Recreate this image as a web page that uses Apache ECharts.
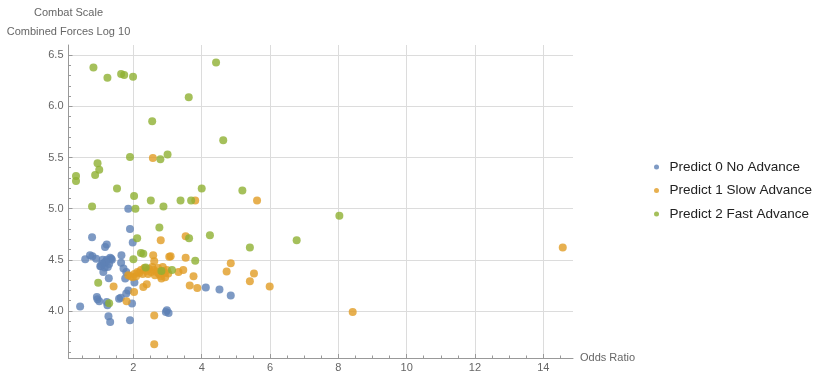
<!DOCTYPE html>
<html><head><meta charset="utf-8">
<script src="https://cdn.jsdelivr.net/npm/echarts@6/dist/echarts.min.js"></script>
<style>html,body{margin:0;padding:0;background:#fff}#c{width:824px;height:387px}</style>
</head><body><div id="c"></div>
<script>
const seriesNames = ['Predict 0 No Advance', 'Predict 1 Slow Advance', 'Predict 2 Fast Advance'];
const seriesColors = ['#5E81B5', '#E19C24', '#8FB032'];

const noAdvance = [
  [1.85,5.0],[1.90,4.80],[0.79,4.72],[1.22,4.65],[1.17,4.626],[1.98,4.67],[0.59,4.505],[0.73,4.545],
  [0.80,4.535],[0.91,4.51],[1.03,4.437],[1.16,4.424],[1.22,4.50],[1.35,4.51],[1.29,4.46],[1.65,4.545],
  [1.64,4.47],[1.79,4.38],[1.28,4.32],[1.76,4.317],[2.03,4.277],[1.85,4.20],[1.79,4.17],[1.58,4.12],
  [1.63,4.13],[0.95,4.114],[1.0,4.095],[1.22,4.088],[1.24,4.056],[1.96,4.072],[0.44,4.043],[1.27,3.948],
  [1.32,3.893],[1.90,3.909],[2.98,4.007],[3.03,3.98],[2.95,3.99],[4.12,4.23],[4.52,4.21],[4.85,4.15],
  [1.05,4.44],[1.12,4.38],[1.71,4.414],[1.10,4.50],[1.15,4.47],[1.25,4.43],[1.32,4.52],[1.37,4.50],[0.93,4.137],
  [1.20,4.48],[1.08,4.46]
];
const slowAdvance = [
  [1.85,4.35],[1.92,4.34],[1.98,4.33],[2.03,4.36],[2.08,4.34],[2.12,4.38],[2.17,4.37],[2.22,4.40],
  [2.27,4.36],[2.32,4.42],[2.38,4.39],[2.43,4.36],[2.46,4.41],[2.52,4.38],[2.55,4.43],[2.60,4.40],
  [2.63,4.35],[2.68,4.38],[2.72,4.42],[2.75,4.36],[2.80,4.34],[2.86,4.43],[2.88,4.39],[2.92,4.37],
  [2.98,4.40],[3.02,4.365],[3.05,4.53],[3.09,4.535],[2.82,4.317],[2.93,4.33],[3.32,4.38],[3.46,4.40],
  [3.53,4.52],[2.58,4.545],[2.61,4.486],[2.29,4.235],[2.39,4.26],[2.02,4.186],[1.80,4.095],
  [1.42,4.24],[3.76,4.34],[3.65,4.25],[3.87,4.225],[2.61,3.955],[2.61,3.674],[2.80,4.69],[3.53,4.73],
  [3.81,5.08],[2.57,5.496],[5.62,5.08],[4.85,4.466],[4.73,4.385],[5.53,4.366],[5.41,4.29],[5.99,4.24],
  [8.42,3.99],[14.57,4.62]
];
const fastAdvance = [
  [0.83,6.38],[1.24,6.28],[1.64,6.317],[1.73,6.307],[1.99,6.29],[3.62,6.09],[4.42,6.43],[2.55,5.854],
  [4.63,5.67],[1.90,5.505],[2.79,5.483],[3.00,5.53],[0.95,5.444],[1.00,5.38],[0.88,5.33],[0.32,5.32],
  [0.32,5.27],[1.52,5.197],[4.0,5.197],[5.19,5.177],[2.02,5.124],[2.51,5.08],[3.38,5.08],[3.69,5.08],
  [0.79,5.02],[2.88,5.02],[2.06,5.0],[2.76,4.815],[2.11,4.71],[3.63,4.71],[4.24,4.74],[8.03,4.93],
  [6.78,4.69],[5.41,4.62],[2.22,4.567],[2.29,4.56],[2.36,4.424],[2.0,4.505],[3.81,4.49],[3.13,4.40],
  [2.82,4.39],[0.97,4.275],[1.29,4.075]
];

const xMajor = [2,4,6,8,10,12,14];
const xMinor = [0.5,1,1.5,2.5,3,3.5,4.5,5,5.5,6.5,7,7.5,8.5,9,9.5,10.5,11,11.5,12.5,13,13.5,14.5];
const yMajor = [4.0,4.5,5.0,5.5,6.0,6.5];
const yMinor = [3.6,3.7,3.8,3.9,4.1,4.2,4.3,4.4,4.6,4.7,4.8,4.9,5.1,5.2,5.3,5.4,5.6,5.7,5.8,5.9,6.1,6.2,6.3,6.4];

const xMin = 0.1, xMax = 14.87, yMin = 3.54, yMax = 6.6;
const font = 'Liberation Sans, Arial, sans-serif';
const axisGray = '#999';
const labelGray = '#666';

const chart = echarts.init(document.getElementById('c'), null, {renderer: 'canvas'});
chart.setOption({
  animation: false,
  backgroundColor: '#fff',
  grid: {left: 68.5, top: 45, width: 504.5, height: 313, containLabel: false, outerBoundsMode: 'none'},
  legend: {
    orient: 'vertical', left: 649, top: 155, itemGap: 9.5,
    icon: 'circle', itemWidth: 16, itemHeight: 5,
    textStyle: {fontFamily: font, fontSize: 13.5, color: '#222'},
    data: seriesNames
  },
  xAxis: [{
    type: 'value', min: xMin, max: xMax, position: 'bottom',
    name: 'Odds Ratio', nameLocation: 'end', nameGap: 7,
    nameTextStyle: {fontFamily: font, fontSize: 11, color: labelGray, verticalAlign: 'middle'},
    axisLine: {show: true, onZero: false, lineStyle: {color: axisGray, width: 1}},
    axisTick: {show: true, inside: true, length: 4, customValues: xMajor, lineStyle: {color: axisGray}},
    axisLabel: {show: true, customValues: xMajor, margin: 4, fontFamily: font, fontSize: 11, color: labelGray},
    splitLine: {show: true, lineStyle: {color: '#dcdcdc', width: 1}}
  }, {
    type: 'value', min: xMin, max: xMax, position: 'bottom', gridIndex: 0,
    axisLine: {show: false},
    axisTick: {show: true, inside: true, length: 2.5, customValues: xMinor, lineStyle: {color: axisGray}},
    axisLabel: {show: false},
    splitLine: {show: false}
  }],
  yAxis: [{
    type: 'value', min: yMin, max: yMax, position: 'left',
    name: 'Combat Scale\nCombined Forces Log 10', nameLocation: 'end', nameGap: 3.5,
    nameTextStyle: {fontFamily: font, fontSize: 11, color: labelGray, align: 'center', lineHeight: 19},
    axisLine: {show: true, onZero: false, lineStyle: {color: axisGray, width: 1}},
    axisTick: {show: true, inside: true, length: 4, customValues: yMajor, lineStyle: {color: axisGray}},
    axisLabel: {show: true, customValues: yMajor, margin: 5, fontFamily: font, fontSize: 11, color: labelGray,
      formatter: v => Number(v).toFixed(1)},
    splitLine: {show: true, lineStyle: {color: '#dcdcdc', width: 1}}
  }, {
    type: 'value', min: yMin, max: yMax, position: 'left', gridIndex: 0,
    axisLine: {show: false},
    axisTick: {show: true, inside: true, length: 2.5, customValues: yMinor, lineStyle: {color: axisGray}},
    axisLabel: {show: false},
    splitLine: {show: false}
  }],
  series: [noAdvance, slowAdvance, fastAdvance].map((d, i) => ({
    type: 'scatter', name: seriesNames[i], data: d,
    xAxisIndex: 0, yAxisIndex: 0,
    symbol: 'circle', symbolSize: 8,
    itemStyle: {color: seriesColors[i], borderWidth: 0},
    emphasis: {disabled: true}
  }))
});
</script>
</body></html>
